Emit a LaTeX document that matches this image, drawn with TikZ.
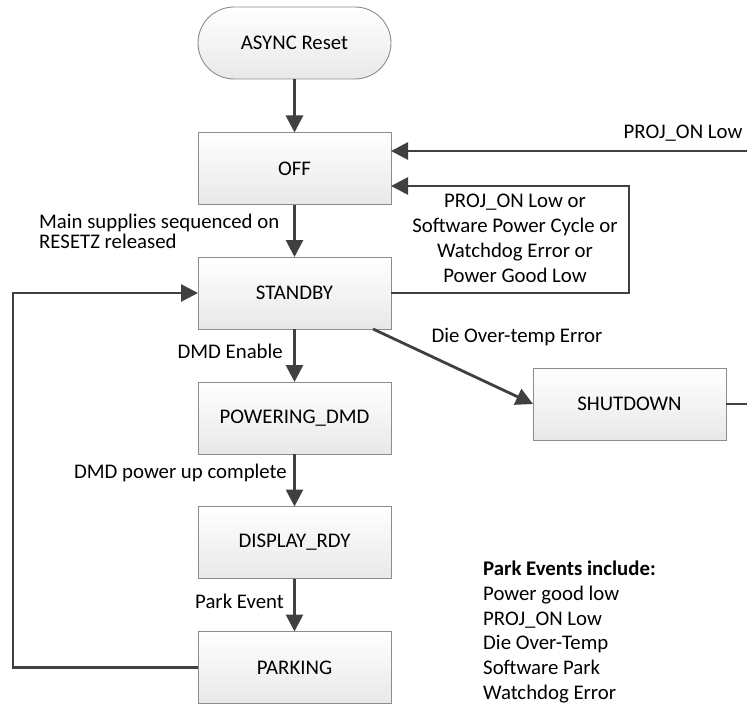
\documentclass[tikz,border=0pt]{standalone}
\usepackage{fontspec}
\setmainfont{Carlito}
\usetikzlibrary{arrows.meta}
\definecolor{arrowgray}{HTML}{404040}
\definecolor{boxgray}{HTML}{8C8C8C}
\setlength{\lineskiplimit}{-30pt}

\begin{document}
\begin{tikzpicture}[x=1pt,y=-1pt,
    txt/.style={font=\fontsize{20.8}{25}\selectfont},
    state/.style={txt,draw=boxgray,line width=0.9pt,top color=white,bottom color=black!9,
        minimum width=193pt,minimum height=72pt,inner sep=0pt,outer sep=0pt},
    startstate/.style={state,rounded corners=36pt},
    flow/.style={draw=arrowgray,line width=2.8pt,-{Triangle[length=17pt,width=17pt]}},
    wire/.style={draw=arrowgray,line width=2.8pt},
    lbl/.style={txt,inner sep=0pt}]
    \useasboundingbox (0,0) rectangle (747,706);

    % states
    \node[startstate] (reset) at (294.5,43) {ASYNC Reset};
    \node[state] (off) at (294.5,168.5) {OFF};
    \node[state] (standby) at (294.5,293) {STANDBY};
    \node[state] (powering) at (294.5,418) {POWERING\_DMD};
    \node[state] (display) at (294.5,542.5) {DISPLAY\_RDY};
    \node[state] (parking) at (294.5,667.5) {PARKING};
    \node[state] (shutdown) at (629.5,404) {SHUTDOWN};

    \coordinate (projin) at (747,151);
    \coordinate (shutout) at (747,404);

    % transitions
    \draw[flow] (reset) -- (off);
    \draw[flow] (off) -- (standby);
    \draw[flow] (projin) -- ([yshift=17.5pt]off.east);
    \draw[flow] (standby.east) -- (629,293) -- (629,186) -- ([yshift=-17.5pt]off.east);
    \draw[flow] (standby) -- (powering);
    \draw[flow] ([xshift=-18pt]standby.south east) -- (shutdown.west);
    \draw[wire] (shutdown.east) -- (shutout);
    \draw[flow] (powering) -- (display);
    \draw[flow] (display) -- (parking);
    \draw[flow] (parking.west) -- (13,667.5) -- (13,293) -- (standby.west);

    % labels
    \node[lbl,align=left,anchor=west,font=\fontsize{20.8}{19.5}\selectfont] (supplies) at (39,231.5) {Main supplies sequenced on\\RESETZ released};
    \node[lbl] (projlbl) at (683,133) {PROJ\_ON Low};
    \node[lbl,align=center] (offlbl) at (515,238.5) {PROJ\_ON Low or\\Software Power Cycle or\\Watchdog Error or\\Power Good Low};
    \node[lbl,anchor=east] (enlbl) at (283,351) {DMD Enable};
    \node[lbl] (templbl) at (517,337) {Die Over-temp Error};
    \node[lbl,anchor=east] (uplbl) at (287,473) {DMD power up complete};
    \node[lbl,anchor=east] (parklbl) at (284,601) {Park Event};
    \node[lbl,align=left,anchor=west,font=\fontsize{20.8}{24.8}\selectfont] (events) at (483,632) {\textbf{Park Events include:}\\Power good low\\PROJ\_ON Low\\Die Over-Temp\\Software Park\\Watchdog Error};
\end{tikzpicture}
\end{document}
